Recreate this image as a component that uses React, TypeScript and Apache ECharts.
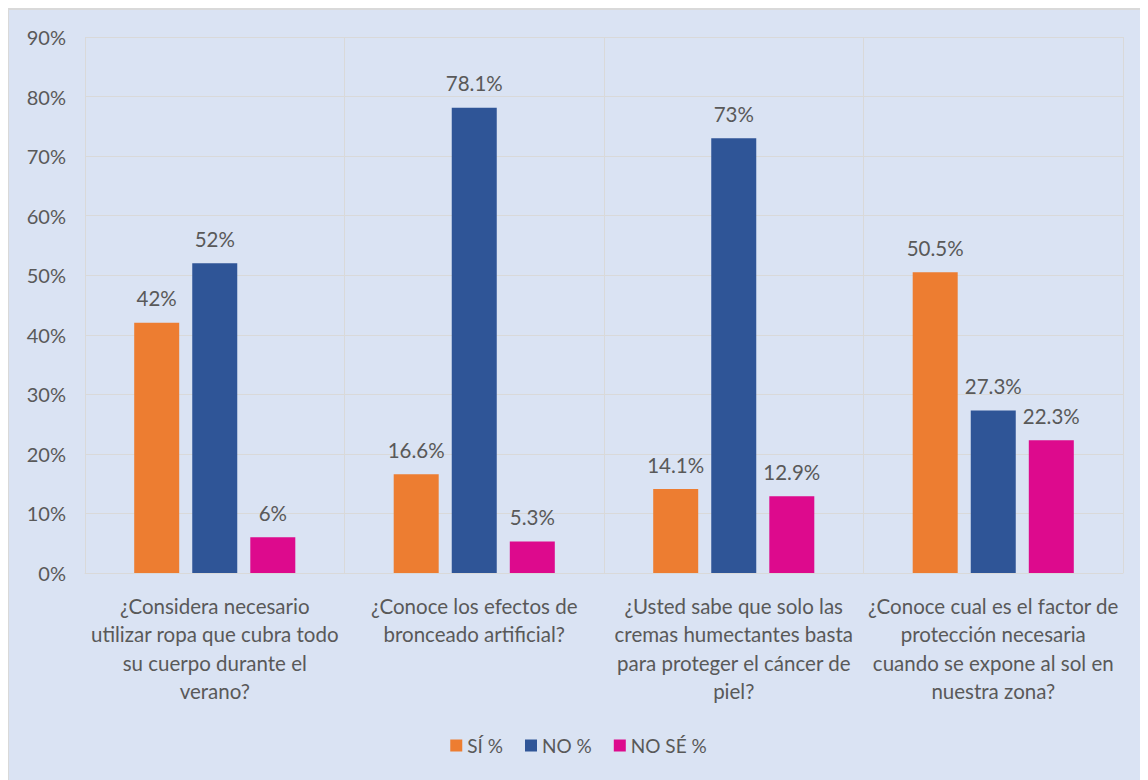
import React, { useEffect, useRef } from "react";
import * as echarts from "echarts";

const categories = [
  "¿Considera necesario\nutilizar ropa que cubra todo\nsu cuerpo durante el\nverano?",
  "¿Conoce los efectos de\nbronceado artificial?",
  "¿Usted sabe que solo las\ncremas humectantes basta\npara proteger el cáncer de\npiel?",
  "¿Conoce cual es el factor de\nprotección necesaria\ncuando se expone al sol en\nnuestra zona?",
];
const siValues = [42, 16.6, 14.1, 50.5];
const noValues = [52, 78.1, 73, 27.3];
const noSeValues = [6, 5.3, 12.9, 22.3];
const seriesNames = ["SÍ %", "NO %", "NO SÉ %"];
const colors = ["#ED7D31", "#2F5597", "#DD0A8D"];

const FONT = "Lato, 'Liberation Sans', sans-serif";
const TXT = "#595959";

export default function App() {
  const ref = useRef<HTMLDivElement>(null);
  useEffect(() => {
    if (!ref.current) return;
    const chart = echarts.init(ref.current, undefined, { renderer: "svg" });
    const mk = (name: string, data: number[], color: string) => ({
      name,
      type: "bar",
      data,
      barWidth: 45,
      barGap: "29%",
      itemStyle: { color },
      label: {
        show: true,
        position: "top",
        distance: 14,
        formatter: (p: any) => p.value + "%",
        color: TXT,
        fontSize: 20.5,
        fontFamily: FONT,
      },
    });
    chart.setOption({
      animation: false,
      backgroundColor: "#DAE3F3",
      textStyle: { fontFamily: FONT },
      grid: { left: 76, right: 25, top: 27, bottom: 207, containLabel: false },
      legend: {
        bottom: 20,
        left: "center",
        itemWidth: 12,
        itemHeight: 12,
        itemGap: 22,
        icon: "rect",
        textStyle: { color: TXT, fontSize: 19, fontFamily: FONT },
        data: seriesNames,
      },
      xAxis: {
        type: "category",
        data: categories,
        axisLine: { show: true, lineStyle: { color: "#D9D9D9" } },
        axisTick: { show: false },
        splitLine: { show: true, lineStyle: { color: "#D9D9D9" } },
        axisLabel: {
          interval: 0,
          color: TXT,
          fontSize: 20.5,
          lineHeight: 28.3,
          margin: 19,
          fontFamily: FONT,
        },
      },
      yAxis: {
        type: "value",
        min: 0,
        max: 90,
        interval: 10,
        axisLine: { show: false },
        axisTick: { show: false },
        splitLine: { lineStyle: { color: "#D9D9D9" } },
        axisLabel: {
          formatter: (v: number) => v + "%",
          color: TXT,
          fontSize: 20,
          margin: 19,
          fontFamily: FONT,
        },
      },
      series: [
        mk(seriesNames[0], siValues, colors[0]),
        mk(seriesNames[1], noValues, colors[1]),
        mk(seriesNames[2], noSeValues, colors[2]),
      ],
    });
    return () => chart.dispose();
  }, []);
  return (
    <div
      ref={ref}
      style={{
        width: 1140,
        height: 772,
        boxSizing: "border-box",
        borderTop: "2px solid #D9D9D9",
        borderLeft: "1px solid #D9D9D9",
        background: "#DAE3F3",
      }}
    />
  );
}
